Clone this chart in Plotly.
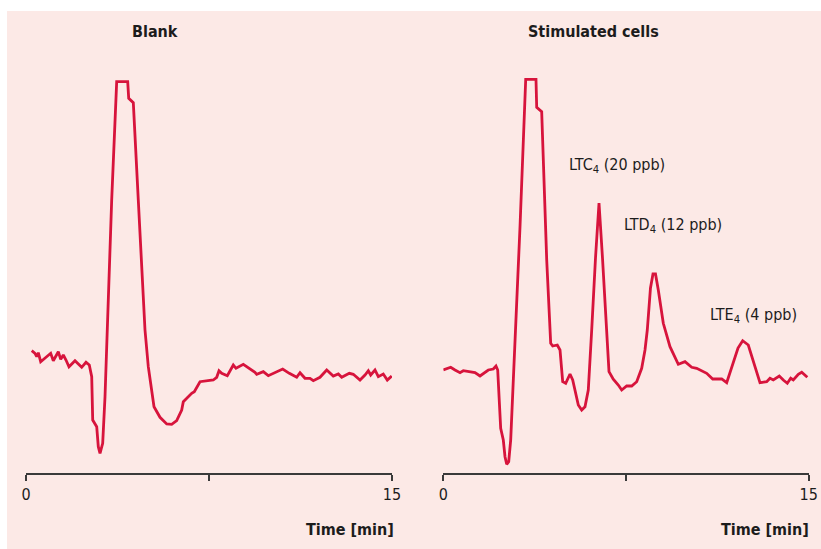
import plotly.graph_objects as go

# ---- data (signal in arbitrary detector units, time in minutes) ----
blank_time = [0.234, 0.369, 0.439, 0.504, 0.602, 0.848, 1.012, 1.119, 1.258, 1.324,
              1.422, 1.529, 1.639, 1.762, 2.008, 2.283, 2.459, 2.594, 2.693, 2.734,
              2.898, 2.963, 3.033, 3.143, 3.238, 3.332, 3.512, 3.717, 4.168, 4.209,
              4.398, 4.602, 4.877, 5.012, 5.246, 5.492, 5.766, 5.971, 6.176, 6.381,
              6.447, 6.791, 6.898, 7.131, 7.676, 7.816, 7.910, 8.020, 8.250, 8.496,
              8.607, 8.906, 9.152, 9.385, 9.455, 9.725, 9.930, 10.205, 10.520, 10.791,
              11.094, 11.230, 11.434, 11.639, 11.775, 12.049, 12.324, 12.594, 12.799, 12.939,
              13.250, 13.414, 13.689, 13.893, 14.029, 14.127, 14.303, 14.439, 14.643, 14.807,
              14.988]
blank_signal = [122.3, 119.7, 116.3, 120.3, 111.3, 116.3, 119.7, 112.3, 118, 121.3,
                113.7, 118, 113, 106.3, 112.3, 105.7, 110.7, 108, 96.3, 53,
                46.3, 26.3, 19.7, 29.7, 76.3, 143, 273, 391.3, 391.3, 374.7,
                370.3, 273, 143, 106.3, 66.3, 55.7, 49, 48.7, 52.3, 63,
                71.3, 79.7, 81.3, 91.3, 93, 95.7, 102.3, 99.7, 97.3, 108,
                104.7, 108.7, 104.7, 100.7, 98.7, 101.3, 97.3, 100.7, 104, 99.7,
                95.7, 100.3, 94.7, 94.7, 92.3, 95.7, 103, 97, 99, 95.7,
                99.7, 98.7, 93, 98, 102.3, 98, 103, 96.3, 99, 93,
                97]

stim_time = [0.0, 0.140, 0.304, 0.480, 0.686, 0.821, 1.026, 1.301, 1.507, 1.671,
             1.847, 2.053, 2.163, 2.233, 2.299, 2.356, 2.463, 2.533, 2.603, 2.685,
             2.767, 2.874, 2.984, 3.149, 3.383, 3.805, 3.834, 4.039, 4.245, 4.409,
             4.491, 4.680, 4.791, 4.901, 5.025, 5.201, 5.312, 5.406, 5.542, 5.681,
             5.817, 5.952, 6.022, 6.092, 6.248, 6.392, 6.535, 6.708, 6.802, 6.978,
             7.184, 7.323, 7.528, 7.734, 7.939, 8.144, 8.280, 8.374, 8.505, 8.608,
             8.711, 8.826, 9.031, 9.306, 9.647, 9.922, 10.197, 10.402, 10.813, 11.059,
             11.429, 11.634, 11.905, 12.098, 12.290, 12.426, 12.520, 12.795, 13.001, 13.276,
             13.411, 13.547, 13.793, 13.957, 14.122, 14.261, 14.368, 14.573, 14.713, 14.943]
stim_signal = [103, 104.3, 105.7, 103, 100.3, 102.3, 101.3, 100.3, 97, 100.3,
               103, 104, 107, 103, 76.3, 44.7, 33, 16.3, 8.7, 11.3,
               33, 93, 143, 246.3, 393.7, 393.7, 365.7, 361.3, 213, 129.7,
               127, 128, 123, 91.3, 89.7, 99, 93, 83, 68, 63,
               66.3, 83, 109.7, 143, 215, 270, 215, 143, 101.3, 93.7,
               88, 83, 87, 87, 91.3, 104.7, 123, 143, 185, 199,
               199, 183, 149.7, 126.3, 108.7, 111.3, 105.7, 104.7, 99.7, 94,
               94, 90.3, 109.7, 125, 132.3, 130, 128, 106.3, 90.3, 91.3,
               94.7, 93, 97, 93, 89.7, 94.7, 93, 98.7, 100.7, 95.7]

tick_vals = [0, 7.5, 15]
tick_text = ["0", "", "15"]
panel_titles = ["Blank", "Stimulated cells"]
axis_title = "Time [min]"
peak_labels = ["LTC<sub>4</sub> (20 ppb)", "LTD<sub>4</sub> (12 ppb)", "LTE<sub>4</sub> (4 ppb)"]

# ---- style ----
W, H = 821, 549
ML, MR, MT, MB = 0, 0, 11, 76
PLOT_H = H - MT - MB
LINE = "#d7143c"
BG = "#fce9e6"
TXT = "#1c1c1c"
FONT = "DejaVu Sans Condensed, Liberation Sans Narrow, Arial Narrow, sans-serif"

fig = go.Figure()
fig.add_trace(go.Scatter(x=blank_time, y=blank_signal, mode="lines",
                         line=dict(color=LINE, width=2.8), xaxis="x", yaxis="y",
                         showlegend=False, hoverinfo="skip"))
fig.add_trace(go.Scatter(x=stim_time, y=stim_signal, mode="lines",
                         line=dict(color=LINE, width=2.8), xaxis="x2", yaxis="y",
                         showlegend=False, hoverinfo="skip"))

xcommon = dict(range=[0, 15], tickvals=tick_vals, ticktext=tick_text,
               showline=True, linecolor="#3a3a3a", linewidth=1.5,
               ticks="outside", ticklen=6, tickwidth=1.5, tickcolor="#3a3a3a",
               showgrid=False, zeroline=False, anchor="y", automargin=False,
               tickfont=dict(family=FONT, size=16, color=TXT))

fig.update_layout(
    template="none",
    width=W, height=H, autosize=False,
    margin=dict(l=ML, r=MR, t=MT, b=MB, pad=0, autoexpand=False),
    paper_bgcolor="white", plot_bgcolor="rgba(0,0,0,0)",
    xaxis=dict(domain=[26 / W, 392 / W], **xcommon),
    xaxis2=dict(domain=[443.3 / W, 808.7 / W], **xcommon),
    yaxis=dict(range=[0, PLOT_H], visible=False, domain=[0, 1], automargin=False),
    font=dict(family=FONT, color=TXT),
    showlegend=False,
)

# pink panel background
fig.add_shape(type="rect", xref="paper", yref="paper", layer="below",
              x0=7 / W, x1=1.0, y0=-MB / PLOT_H, y1=1.0,
              fillcolor=BG, line=dict(width=0))

def py(p):
    return (H - MB - p) / PLOT_H

anns = []
for title, cx in zip(panel_titles, [155, 593.5]):
    anns.append(dict(text="<b>%s</b>" % title, xref="paper", yref="paper",
                     x=cx / W, y=py(32), xanchor="center", yanchor="middle",
                     showarrow=False, font=dict(family=FONT, size=16, color=TXT)))
for rx in [396, 811]:
    anns.append(dict(text="<b>%s</b>" % axis_title, xref="paper", yref="paper",
                     x=rx / W, y=py(529), xanchor="right", yanchor="middle",
                     showarrow=False, font=dict(family=FONT, size=16, color=TXT)))
for lab, lx, ly in zip(peak_labels, [5.066, 7.323, 10.854], [308, 248, 158]):
    anns.append(dict(text=lab, xref="x2", yref="y", x=lx, y=ly,
                     xanchor="left", yanchor="middle", showarrow=False,
                     font=dict(family=FONT, size=16, color=TXT)))
fig.update_layout(annotations=anns)

fig.write_html("out.html", config={"responsive": False, "displayModeBar": False},
               post_script="document.body.style.margin='0';"
                           "document.body.style.overflow='hidden';")
